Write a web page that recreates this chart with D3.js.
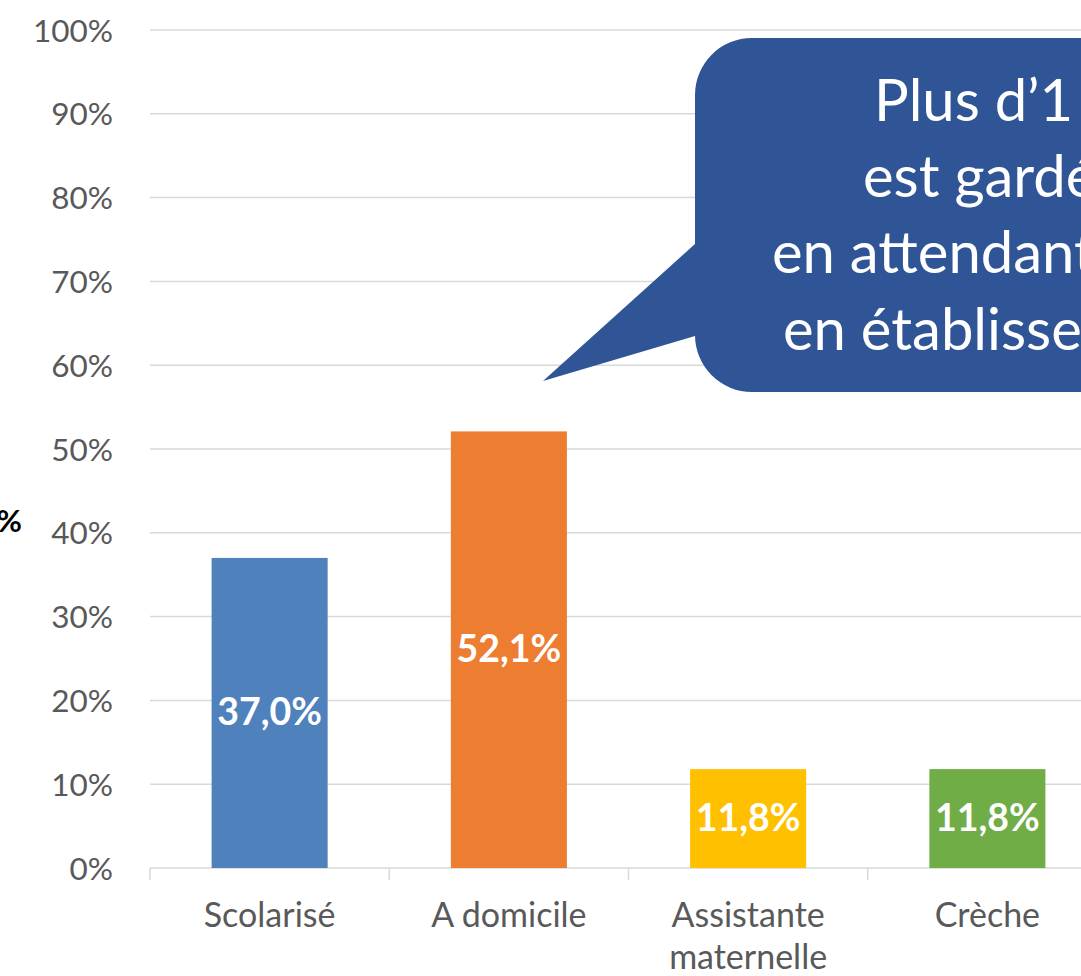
<!DOCTYPE html>
<html><head><meta charset="utf-8">
<script src="https://cdn.jsdelivr.net/npm/d3@7"></script>
<style>html,body{margin:0;padding:0;background:#fff;overflow:hidden}svg{display:block}</style>
</head><body>
<svg id="c" width="1081" height="976"></svg>
<script>
const categories = [["Scolarisé"], ["A domicile"], ["Assistante", "maternelle"], ["Crèche"]];
const values = [37.0, 52.1, 11.8, 11.8];
const labels = ["37,0%", "52,1%", "11,8%", "11,8%"];
const colors = ["#4F81BD", "#ED7D31", "#FFC000", "#70AD47"];
const yTicks = [0, 10, 20, 30, 40, 50, 60, 70, 80, 90, 100];
const calloutLines = ["Plus d’1 enfant sur 2", "est gardé à domicile", "en attendant une place", "en établissement"];

const font = "Lato, 'Open Sans', sans-serif";
const svg = d3.select("#c");
const keys = categories.map(c => c.join(" "));
const x = d3.scaleBand().domain(keys).range([150, 1107]).paddingInner(0.515).paddingOuter(0.2575);
const y = d3.scaleLinear().domain([0, 100]).range([868, 30]);

// gridlines
svg.append("g").selectAll("line").data(yTicks.filter(t => t > 0)).join("line")
  .attr("x1", 150).attr("x2", 1081).attr("y1", d => y(d)).attr("y2", d => y(d))
  .attr("stroke", "#d9d9d9").attr("stroke-width", 1.5);

// y labels
svg.append("g").selectAll("text").data(yTicks).join("text")
  .attr("x", 113).attr("y", d => y(d) + 11.5).attr("text-anchor", "end")
  .attr("font-family", font).attr("font-size", 31.5).attr("fill", "#595959")
  .text(d => d + "%");

// x axis line & ticks
svg.append("line").attr("x1", 150).attr("x2", 1081).attr("y1", y(0)).attr("y2", y(0))
  .attr("stroke", "#d9d9d9").attr("stroke-width", 1.5);
const tickX = keys.map((k, i) => x.range()[0] + i * x.step()).concat([x.range()[0] + keys.length * x.step()]);
svg.append("g").selectAll("line").data(tickX.filter(t => t <= 1081)).join("line")
  .attr("x1", d => d).attr("x2", d => d).attr("y1", y(0)).attr("y2", y(0) + 12)
  .attr("stroke", "#d9d9d9").attr("stroke-width", 1.5);

// bars
svg.append("g").selectAll("rect").data(values).join("rect")
  .attr("x", (d, i) => x(keys[i])).attr("width", x.bandwidth())
  .attr("y", d => y(d)).attr("height", d => y(0) - y(d))
  .attr("fill", (d, i) => colors[i]);

// bar labels
svg.append("g").selectAll("text").data(values).join("text")
  .attr("x", (d, i) => x(keys[i]) + x.bandwidth() / 2)
  .attr("y", d => (y(d) + y(0)) / 2 + 12)
  .attr("text-anchor", "middle").attr("font-family", font).attr("font-weight", "bold")
  .attr("font-size", 37.5).attr("fill", "#fff")
  .text((d, i) => labels[i]);

// x labels
const xl = svg.append("g").selectAll("text").data(categories).join("text")
  .attr("text-anchor", "middle").attr("font-family", font).attr("font-size", 34).attr("fill", "#595959");
xl.each(function(c, i) {
  d3.select(this).selectAll("tspan").data(c).join("tspan")
    .attr("x", x(keys[i]) + x.bandwidth() / 2).attr("y", (d, j) => 927 + j * 42).text(d => d);
});

// left cropped bold text
svg.append("text").attr("x", 22).attr("y", 532).attr("text-anchor", "end")
  .attr("font-family", font).attr("font-weight", "bold").attr("font-size", 31).attr("fill", "#000").text("%");

// callout
const cx0 = 695, cy0 = 38, cx1 = 1260, cy1 = 392, r = 57;
const p = d3.path();
p.moveTo(cx0 + r, cy0);
p.lineTo(cx1 - r, cy0);
p.arcTo(cx1, cy0, cx1, cy0 + r, r);
p.lineTo(cx1, cy1 - r);
p.arcTo(cx1, cy1, cx1 - r, cy1, r);
p.lineTo(cx0 + r, cy1);
p.arcTo(cx0, cy1, cx0, cy1 - r, r);
p.lineTo(cx0, 336);
p.lineTo(543, 381);
p.lineTo(cx0, 244);
p.lineTo(cx0, cy0 + r);
p.arcTo(cx0, cy0, cx0 + r, cy0, r);
p.closePath();
svg.append("path").attr("d", p.toString()).attr("fill", "#2F5597");

const lineX = [874, 863, 772, 783];
const lineY = [121, 197, 273, 350];
svg.append("g").selectAll("text").data(calloutLines).join("text")
  .attr("x", (d, i) => lineX[i]).attr("y", (d, i) => lineY[i])
  .attr("font-family", font).attr("font-size", 58).attr("fill", "#fff")
  .text(d => d);
</script>
</body></html>
